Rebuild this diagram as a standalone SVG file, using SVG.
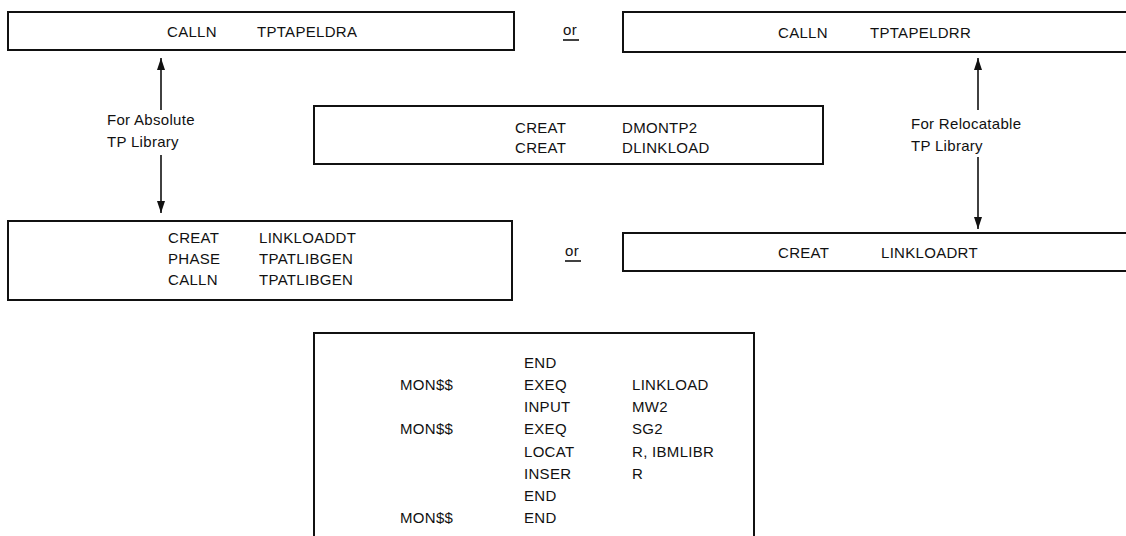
<svg xmlns="http://www.w3.org/2000/svg" width="1126" height="536" viewBox="0 0 1126 536">
<defs>
<style>
.box{fill:#fff;stroke:#111;stroke-width:2}
.t{font-family:"Liberation Sans",Arial,sans-serif;font-size:15px;fill:#111;letter-spacing:0.3px}
.ln{stroke:#111;stroke-width:1.6;fill:none}
</style>
<marker id="ah" viewBox="0 0 12 8" refX="12" refY="4" markerWidth="12" markerHeight="8" markerUnits="userSpaceOnUse" orient="auto">
<path d="M0,0 L12,4 L0,8 z" fill="#111"/>
</marker>
</defs>
<rect width="1126" height="536" fill="#fff"/>
<g id="box-tptapeldra">
<rect class="box" x="8" y="12" width="506" height="38"/>
<text class="t" x="167" y="37">CALLN</text>
<text class="t" x="257" y="37">TPTAPELDRA</text>
</g>
<g id="or-top">
<text class="t" x="563" y="35">or</text>
<line class="ln" x1="563" y1="40" x2="579" y2="40"/>
</g>
<g id="box-tptapeldrr">
<rect class="box" x="623" y="12" width="510" height="40"/>
<text class="t" x="778" y="38">CALLN</text>
<text class="t" x="870" y="38">TPTAPELDRR</text>
</g>
<g id="label-absolute">
<text class="t" x="107" y="125">For Absolute</text>
<text class="t" x="107" y="147">TP Library</text>
</g>
<g id="label-relocatable">
<text class="t" x="911" y="129">For Relocatable</text>
<text class="t" x="911" y="151">TP Library</text>
</g>
<g id="box-creat">
<rect class="box" x="314" y="106" width="509" height="58"/>
<text class="t" x="515" y="133">CREAT</text>
<text class="t" x="622" y="133">DMONTP2</text>
<text class="t" x="515" y="153">CREAT</text>
<text class="t" x="622" y="153">DLINKLOAD</text>
</g>
<g id="box-linkloaddt">
<rect class="box" x="8" y="221" width="504" height="79"/>
<text class="t" x="168" y="243">CREAT</text>
<text class="t" x="259" y="243">LINKLOADDT</text>
<text class="t" x="168" y="264">PHASE</text>
<text class="t" x="259" y="264">TPATLIBGEN</text>
<text class="t" x="168" y="285">CALLN</text>
<text class="t" x="259" y="285">TPATLIBGEN</text>
</g>
<g id="or-bottom">
<text class="t" x="565" y="256">or</text>
<line class="ln" x1="565" y1="261" x2="581" y2="261"/>
</g>
<g id="box-linkloadrt">
<rect class="box" x="623" y="233" width="510" height="38"/>
<text class="t" x="778" y="258">CREAT</text>
<text class="t" x="881" y="258">LINKLOADRT</text>
</g>
<g id="box-monitor">
<rect class="box" x="314" y="333" width="440" height="210"/>
<text class="t" x="524" y="368">END</text>
<text class="t" x="400" y="390">MON$$</text>
<text class="t" x="524" y="390">EXEQ</text>
<text class="t" x="632" y="390">LINKLOAD</text>
<text class="t" x="524" y="412">INPUT</text>
<text class="t" x="632" y="412">MW2</text>
<text class="t" x="400" y="434">MON$$</text>
<text class="t" x="524" y="434">EXEQ</text>
<text class="t" x="632" y="434">SG2</text>
<text class="t" x="524" y="457">LOCAT</text>
<text class="t" x="632" y="457">R, IBMLIBR</text>
<text class="t" x="524" y="479">INSER</text>
<text class="t" x="632" y="479">R</text>
<text class="t" x="524" y="501">END</text>
<text class="t" x="400" y="523">MON$$</text>
<text class="t" x="524" y="523">END</text>
</g>
<g id="connectors">
<line class="ln" x1="161" y1="110" x2="161" y2="58" marker-end="url(#ah)"/>
<line class="ln" x1="161" y1="155" x2="161" y2="213" marker-end="url(#ah)"/>
<line class="ln" x1="978" y1="110" x2="978" y2="58" marker-end="url(#ah)"/>
<line class="ln" x1="978" y1="157" x2="978" y2="229" marker-end="url(#ah)"/>
</g>
</svg>
